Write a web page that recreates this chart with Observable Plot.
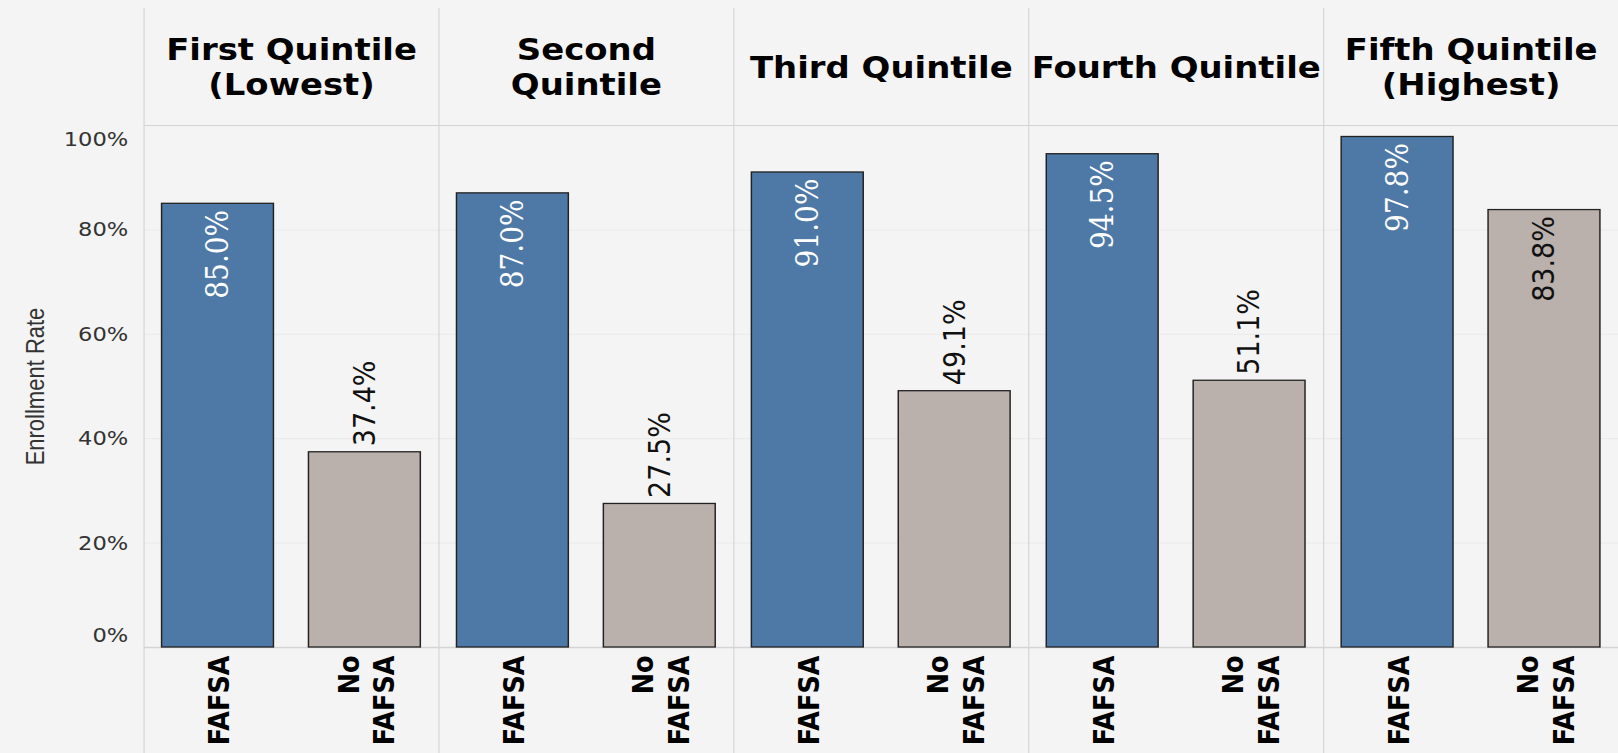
<!DOCTYPE html>
<html>
<head>
<meta charset="utf-8">
<script src="https://cdn.jsdelivr.net/npm/d3@7"></script>
<script src="https://cdn.jsdelivr.net/npm/@observablehq/plot@0.6"></script>
<style>
  html, body { margin: 0; padding: 0; background: #f4f4f4; }
  #chart svg { display: block; }
</style>
</head>
<body>
<div id="chart"></div>
<script>
// ---- Data ----
const quintiles = ["First Quintile\n(Lowest)", "Second\nQuintile", "Third Quintile", "Fourth Quintile", "Fifth Quintile\n(Highest)"];
const statuses = ["FAFSA", "No FAFSA"];
const statusLabels = ["FAFSA", "No\nFAFSA"];
const fafsaRates = [85.0, 87.0, 91.0, 94.5, 97.8];
const noFafsaRates = [37.4, 27.5, 49.1, 51.1, 83.8];
const yTicks = [0, 20, 40, 60, 80, 100];
const yLabel = "Enrollment Rate";
const colors = ["#4e79a7", "#bab0ac"];

const rows = [];
quintiles.forEach((q, i) => {
  rows.push({q, status: statuses[0], value: fafsaRates[i]});
  rows.push({q, status: statuses[1], value: noFafsaRates[i]});
});

// ---- Layout ----
const FULL_W = 1618, H = 753;
const STRETCH = 1.13;               // horizontal stretch of the reference rendering
const W = Math.round(FULL_W / STRETCH);
const marginTop = 125, marginBottom = 106, marginLeft = 126, marginRight = 0;
const pxPerPct = (H - marginTop - marginBottom) / 100;
const labelLenPct = 96 / pxPerPct;  // approx label length in % units
const fmt = v => d3.format(".1f")(v) + "%";

const whiteLabels = rows.filter(d => d.status === statuses[0]);
const outsideLabels = rows.filter(d => d.status === statuses[1] && d.value + labelLenPct <= 100);
const insideDark = rows.filter(d => d.status === statuses[1] && d.value + labelLenPct > 100);

const lineColor = "#d4d4d4";

const svg = Plot.plot({
  width: W,
  height: H,
  marginTop, marginBottom, marginLeft, marginRight,
  style: {background: "#f4f4f4", fontFamily: "DejaVu Sans", overflow: "visible"},
  fx: {domain: quintiles, padding: 0},
  x: {domain: statuses, paddingInner: 0.236, paddingOuter: 0.118},
  y: {domain: [0, 100]},
  color: {domain: statuses, range: colors},
  marks: [
    Plot.gridY([20, 40, 60, 80], {stroke: "#e9e9e9", strokeOpacity: 1}),
    Plot.frame({anchor: "left", stroke: lineColor, strokeOpacity: 1, insetTop: -117, insetBottom: -106}),
    Plot.frame({anchor: "top", stroke: lineColor, strokeOpacity: 1}),
    Plot.ruleY([0], {stroke: lineColor, strokeWidth: 1.5}),
    Plot.barY(rows, {fx: "q", x: "status", y: "value", fill: "status", stroke: "#222", strokeWidth: 1.3}),
    // value labels
    Plot.text(whiteLabels, {fx: "q", x: "status", y: "value", text: d => fmt(d.value), rotate: -90,
      textAnchor: "end", dy: 6, fill: "white", fontFamily: "DejaVu Serif", fontSize: 28}),
    Plot.text(outsideLabels, {fx: "q", x: "status", y: "value", text: d => fmt(d.value), rotate: -90,
      textAnchor: "start", dy: -6, fill: "#111", fontFamily: "DejaVu Sans", fontSize: 27}),
    Plot.text(insideDark, {fx: "q", x: "status", y: "value", text: d => fmt(d.value), rotate: -90,
      textAnchor: "end", dy: 6, fill: "#111", fontFamily: "DejaVu Sans", fontSize: 27}),
    // facet headers
    Plot.axisFx({anchor: "top", tickSize: 0, tickPadding: 59, lineAnchor: "middle", label: null,
      fontSize: 30, fontWeight: "bold", fontFamily: "DejaVu Sans", fill: "#000", lineHeight: 1.17}),
    // x tick labels
    Plot.axisX({anchor: "bottom", tickSize: 0, tickPadding: 8, tickRotate: -90, label: null,
      tickFormat: d => statusLabels[statuses.indexOf(d)],
      fontSize: 25.5, fontWeight: "bold", fontFamily: "DejaVu Sans", fill: "#000", lineHeight: 1.23}),
    // y tick labels
    Plot.axisY(yTicks.slice(1, -1), {anchor: "left", tickSize: 0, tickPadding: 14, label: null,
      tickFormat: d => d + "%", fontSize: 20, fill: "#333"}),
    Plot.axisY([yTicks[yTicks.length - 1]], {anchor: "left", tickSize: 0, tickPadding: 14, label: null,
      tickFormat: d => d + "%", fontSize: 20, fill: "#333", dy: 14}),
    Plot.axisY([yTicks[0]], {anchor: "left", tickSize: 0, tickPadding: 14, label: null,
      tickFormat: d => d + "%", fontSize: 20, fill: "#333", dy: -12}),
    // y axis title
    Plot.text([{q: quintiles[0]}], {fx: "q", frameAnchor: "left", text: () => yLabel, rotate: -90,
      dx: -96, textAnchor: "middle", lineAnchor: "middle", fontFamily: "Liberation Sans", fontSize: 22, fill: "#333"})
  ]
});

svg.setAttribute("viewBox", `0 0 ${W} ${H}`);
svg.setAttribute("preserveAspectRatio", "none");
svg.style.width = FULL_W + "px";
svg.style.height = H + "px";
svg.style.maxWidth = "none";
document.getElementById("chart").appendChild(svg);
</script>
</body>
</html>
